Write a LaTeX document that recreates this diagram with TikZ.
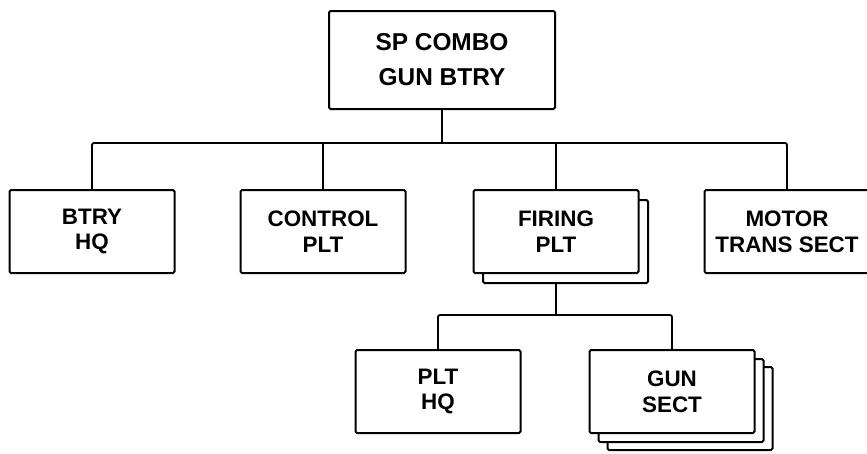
\documentclass[tikz,border=0pt]{standalone}
\usepackage{fontspec}
\setmainfont{Liberation Sans}
\usetikzlibrary{positioning, calc, shadows}

\begin{document}
\begin{tikzpicture}[
  box/.style={draw=black, fill=white, line width=2bp, rounded corners=1.5bp,
              align=center, font=\fontsize{22.5}{26}\selectfont\bfseries,
              inner sep=0pt, minimum width=165bp, minimum height=83bp},
  topbox/.style={box, font=\fontsize{24.5}{35}\selectfont\bfseries,
                 minimum width=226bp, minimum height=98bp},
  stackone/.style={box,
    general shadow={draw=black, fill=white, line width=2bp,
                    shadow xshift=9.5bp, shadow yshift=-10bp}},
  stacktwo/.style={box,
    general shadow={draw=black, fill=white, line width=2bp,
                    shadow xshift=18bp, shadow yshift=-17bp},
    general shadow={draw=black, fill=white, line width=2bp,
                    shadow xshift=9bp, shadow yshift=-9bp}},
  link/.style={draw=black, line width=1.8bp, rounded corners=2bp}
]
\useasboundingbox (0,0) rectangle (867bp,-454bp);

\node[topbox] (btry) at (442bp,-60bp) {SP COMBO\\GUN BTRY};

\node[box, below=79bp of btry, xshift=-119bp] (control) {CONTROL\\PLT};
\node[box, left=64bp of control] (btryhq) {BTRY\\HQ};
\node[stackone, right=66bp of control] (firing) {FIRING\\PLT};
\node[box, right=64bp of firing] (motor) {MOTOR\\TRANS SECT};

\node[box, below=75bp of firing, xshift=-118bp] (plthq) {PLT\\HQ};
\node[stacktwo, right=67bp of plthq] (gunsect) {GUN\\SECT};

% battery bus
\coordinate (bus) at ($(btry.south)+(0,-33bp)$);
\draw[link] (btry) -- (bus);
\draw[link] (btryhq) |- (bus) -| (motor);
\draw[link] (control) -- (control |- bus);
\draw[link] (firing) -- (firing |- bus);

% platoon bus
\coordinate (firingback) at ($(firing.south)+(0,-10bp)$);
\coordinate (pltbus) at ($(firingback)+(0,-31bp)$);
\draw[link] (firingback) -- (pltbus);
\draw[link] (plthq) |- (pltbus) -| (gunsect);
\end{tikzpicture}
\end{document}
